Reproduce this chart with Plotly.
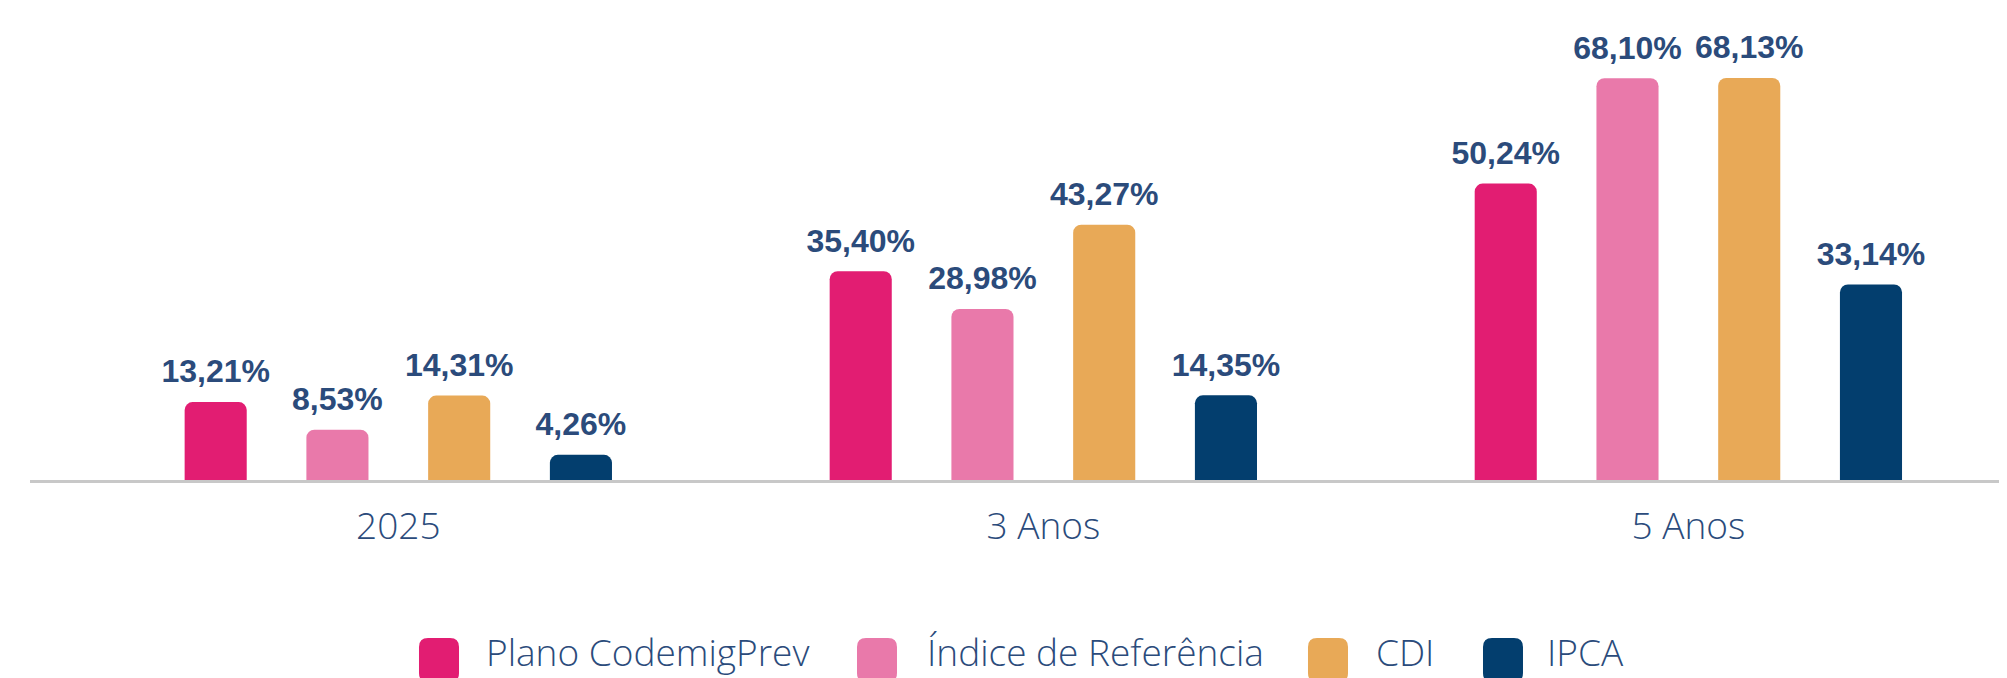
import plotly.graph_objects as go

periods = ["2025", "3 Anos", "5 Anos"]
series_names = ["Plano CodemigPrev", "Índice de Referência", "CDI", "IPCA"]
plano = [13.21, 35.40, 50.24]
indice = [8.53, 28.98, 68.10]
cdi = [14.31, 43.27, 68.13]
ipca = [4.26, 14.35, 33.14]

colors = ["#e21d72", "#e979aa", "#e8a957", "#033e6e"]
text_color = "#2b4b7b"

# page body has an 8px margin, so the figure is a bit smaller than the window
W, H = 1999, 670
ML, MR, MT, MB = 22, 0, 0, 198
OFF = 8


def pct(v):
    return f"{v:.2f}%".replace(".", ",")


fig = go.Figure()
for name, vals, col in zip(series_names, [plano, indice, cdi, ipca], colors):
    fig.add_trace(go.Bar(
        x=periods, y=vals, name=name,
        marker=dict(color=col, line=dict(width=0)),
        hoverinfo="skip",
        showlegend=False,
    ))

# value labels as grouped scatter text so they sit a little higher above bars
for name, vals in zip(series_names, [plano, indice, cdi, ipca]):
    fig.add_trace(go.Scatter(
        x=periods, y=vals, mode="markers+text",
        marker=dict(size=17, opacity=0),
        text=[pct(v) for v in vals],
        textposition="top center",
        textfont=dict(family="Liberation Sans", size=32, color=text_color, weight="bold"),
        cliponaxis=False,
        hoverinfo="skip",
        showlegend=False,
    ))


def px_to_paper(x, y):
    x, y = x - OFF, y - OFF
    return (x - ML) / (W - ML - MR), (H - MB - y) / (H - MT - MB)


def rounded_rect(x0, y0, x1, y1, r):
    def p(x, y):
        a, b = px_to_paper(x, y)
        return f"{a:.5f},{b:.5f}"
    return (f"M{p(x0 + r, y0)} L{p(x1 - r, y0)} Q{p(x1, y0)} {p(x1, y0 + r)} "
            f"L{p(x1, y1 - r)} Q{p(x1, y1)} {p(x1 - r, y1)} "
            f"L{p(x0 + r, y1)} Q{p(x0, y1)} {p(x0, y1 - r)} "
            f"L{p(x0, y0 + r)} Q{p(x0, y0)} {p(x0 + r, y0)} Z")


swatch_x = [419, 857, 1308, 1483]
label_x = [484, 925, 1374, 1545]
for name, col, sx, lx in zip(series_names, colors, swatch_x, label_x):
    fig.add_shape(type="path", xref="paper", yref="paper",
                  path=rounded_rect(sx, 638, sx + 40, 682, 9),
                  fillcolor=col, line=dict(width=0), layer="above")
    ax, ay = px_to_paper(lx, 651)
    fig.add_annotation(x=ax, y=ay, xref="paper", yref="paper", text=name,
                       showarrow=False, xanchor="left", yanchor="middle",
                       font=dict(family="Open Sans", size=37, color=text_color, weight=300))

fig.update_layout(
    width=W, height=H,
    margin=dict(l=ML, r=MR, t=MT, b=MB),
    plot_bgcolor="white", paper_bgcolor="white",
    barmode="group", bargap=0.245, bargroupgap=0.49,
    scattermode="group", scattergap=0.245,
    barcornerradius=8,
    showlegend=False,
)
fig.update_xaxes(
    range=[-0.571, 2.494],
    showline=True, linecolor="#c8c8c8", linewidth=3,
    showgrid=False, ticks="",
    tickfont=dict(family="Open Sans", size=37, color=text_color, weight=300),
    ticklabelstandoff=12,
)
fig.update_yaxes(range=[0, 80.0], visible=False, showgrid=False, zeroline=False)

fig.write_html("out.html")
